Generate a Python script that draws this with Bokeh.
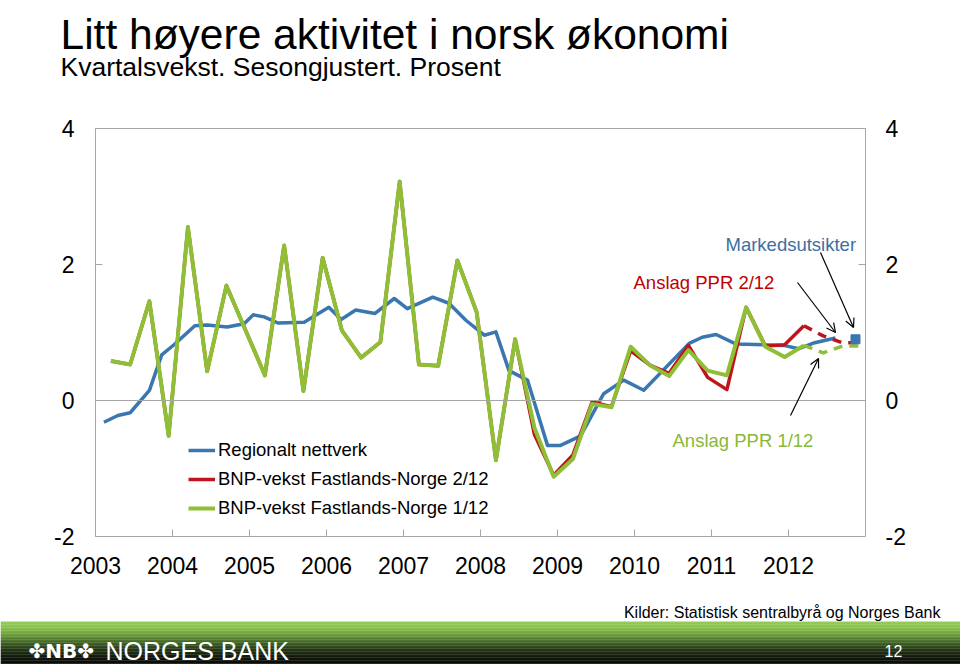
from bokeh.plotting import figure
from bokeh.layouts import column
from bokeh.models import (Range1d, LinearAxis, FixedTicker, Span, Label, Arrow, OpenHead,
                          Legend, LegendItem, Plot)
from bokeh.core.properties import value
from bokeh.embed import file_html
from bokeh.resources import INLINE

FONT = "Liberation Sans"

# ---------------- data ----------------
years = [2003, 2004, 2005, 2006, 2007, 2008, 2009, 2010, 2011, 2012]
year_labels = ["2003", "2004", "2005", "2006", "2007", "2008", "2009", "2010", "2011", "2012"]
y_ticks = [-2, 0, 2, 4]
y_labels = ["-2", "0", "2", "4"]

# quarterly BNP-vekst Fastlands-Norge, PPR 1/12 (actual data)
green_vals = [0.58, 0.53, 1.46, -0.52, 2.55, 0.43, 1.69, 1.03, 0.37, 2.28,
              0.14, 2.10, 1.03, 0.63, 0.86, 3.22, 0.53, 0.51, 2.06, 1.30,
              -0.88, 0.90, -0.40, -1.12, -0.86, -0.05, -0.10, 0.79, 0.52, 0.36,
              0.74, 0.44, 0.37, 1.37, 0.79, 0.64, 0.81]
# PPR 1/12 projection (dashed), starting from the last actual quarter
green_proj = [0.81, 0.70, 0.80, 0.80]

# quarterly BNP-vekst Fastlands-Norge, PPR 2/12
red_vals = [0.58, 0.53, 1.46, -0.52, 2.55, 0.43, 1.69, 1.03, 0.37, 2.28,
            0.14, 2.10, 1.03, 0.63, 0.86, 3.22, 0.53, 0.51, 2.06, 1.30,
            -0.88, 0.90, -0.50, -1.10, -0.80, -0.02, -0.09, 0.73, 0.52, 0.40,
            0.81, 0.34, 0.16, 1.37, 0.80, 0.82, 1.10]
red_proj = [1.10, 0.95, 0.85, 0.85]

# Regionalt nettverk (survey dates as decimal years)
blue_x = [2003.11, 2003.29, 2003.45, 2003.70, 2003.86, 2004.02, 2004.29, 2004.45,
          2004.71, 2004.93, 2005.05, 2005.19, 2005.37, 2005.71, 2006.03, 2006.19,
          2006.38, 2006.63, 2006.88, 2007.05, 2007.38, 2007.59, 2007.81, 2008.05,
          2008.20, 2008.37, 2008.61, 2008.87, 2009.04, 2009.30, 2009.60, 2009.86,
          2010.12, 2010.71, 2010.88, 2011.06, 2011.32, 2011.94, 2012.13, 2012.34,
          2012.61]
blue_vals = [-0.32, -0.22, -0.18, 0.15, 0.67, 0.82, 1.10, 1.11,
             1.08, 1.13, 1.26, 1.23, 1.14, 1.15, 1.37, 1.19,
             1.33, 1.28, 1.50, 1.35, 1.52, 1.43, 1.18, 0.96,
             1.01, 0.44, 0.30, -0.66, -0.66, -0.52, 0.10, 0.30,
             0.15, 0.84, 0.93, 0.97, 0.83, 0.81, 0.76, 0.85,
             0.92]

# Markedsutsikter
market_x = [2012.87]
market_vals = [0.90]

title_text = "Litt høyere aktivitet i norsk økonomi"
subtitle_text = "Kvartalsvekst. Sesongjustert. Prosent"
source_text = "Kilder: Statistisk sentralbyrå og Norges Bank"

# ---------------- positions ----------------
FIRST_Q = 2003.2   # position of the first quarter on the time axis
def qpos(n, start=0):
    return [FIRST_Q + 0.25 * (start + i) for i in range(n)]

green_x = qpos(len(green_vals))
red_x = qpos(len(red_vals))
proj_x = qpos(len(green_proj), start=len(green_vals) - 1)

BLUE = "#3a77b0"
RED = "#c0141c"
GREEN = "#8fbe37"
GRAY = "#a6a6a6"

W = 960
HEAD_H = 90          # page y 0 .. 90
MAIN_H = 500         # page y 90 .. 590
FOOT_H = 74          # page y 590 .. 664
FOOT_TOP = HEAD_H + MAIN_H
FL, FT, FW, FH = 95, 38, 770, 408
FRAME_LEFT_REF = FL
FRAME_TOP_REF = HEAD_H + FT

def X(px):  # reference-pixel x -> data x
    return 2003 + (px - FRAME_LEFT_REF) * 10.0 / FW

def Y(py):  # reference-pixel y -> data y
    return 4 - (py - FRAME_TOP_REF) * 6.0 / FH

HAS_FRAME_ALIGN = "frame_align" in Plot.properties()
def no_align(fig):
    if HAS_FRAME_ALIGN:
        fig.frame_align = False

# ---------------- header ----------------
head = figure(width=W, height=HEAD_H, output_backend="svg", toolbar_location=None,
              x_range=Range1d(0, W), y_range=Range1d(HEAD_H, 0),
              x_axis_location=None, y_axis_location=None, min_border=0)
head.grid.visible = False
head.outline_line_color = None
no_align(head)
head.text(x=[60], y=[34], text=[title_text], text_font=value(FONT),
          text_font_size="42.5px", text_color="black", text_baseline="alphabetic")
head.text(x=[60], y=[66], text=[subtitle_text], text_font=value(FONT),
          text_font_size="26.5px", text_color="black", text_baseline="alphabetic")

# ---------------- main chart ----------------
p = figure(width=W, height=MAIN_H, output_backend="svg", toolbar_location=None,
           x_range=Range1d(2003, 2013), y_range=Range1d(-2, 4),
           min_border_left=FL, min_border_right=W - FL - FW,
           min_border_top=FT, min_border_bottom=MAIN_H - FT - FH)
p.xgrid.visible = False
p.ygrid.visible = False
p.outline_line_color = GRAY
p.outline_line_width = 1
no_align(p)

def style_axis(ax, standoff):
    ax.axis_line_color = None
    ax.major_tick_in = 7
    ax.major_tick_out = 0
    ax.major_tick_line_color = GRAY
    ax.minor_tick_line_color = None
    ax.major_label_text_font = FONT
    ax.major_label_text_font_size = "23px"
    ax.major_label_text_color = "black"
    ax.major_label_standoff = standoff

xa = p.xaxis[0]
xa.ticker = FixedTicker(ticks=years)
xa.major_label_overrides = {y: l for y, l in zip(years, year_labels)}
style_axis(xa, 20)

ya = p.yaxis[0]
ya.ticker = FixedTicker(ticks=y_ticks)
ya.major_label_overrides = {t: l for t, l in zip(y_ticks, y_labels)}
style_axis(ya, 21)

yr = LinearAxis(ticker=FixedTicker(ticks=y_ticks))
yr.major_label_overrides = {t: l for t, l in zip(y_ticks, y_labels)}
style_axis(yr, 20)
p.add_layout(yr, "right")

p.add_layout(Span(location=0, dimension="width", line_color=GRAY, line_width=1))

r_blue = p.line(blue_x, blue_vals, line_color=BLUE, line_width=3.5, line_join="round")
r_red = p.line(red_x, red_vals, line_color=RED, line_width=3.5, line_join="round")
p.line(proj_x, red_proj, line_color=RED, line_width=3.5, line_dash="9 7")
r_green = p.line(green_x, green_vals, line_color=GREEN, line_width=4, line_join="round")
p.line(proj_x, green_proj, line_color=GREEN, line_width=3.5, line_dash="9 7")
p.scatter(market_x, market_vals, marker="square", size=9, color=BLUE)

legend = Legend(items=[
    LegendItem(label="Regionalt nettverk", renderers=[r_blue]),
    LegendItem(label="BNP-vekst Fastlands-Norge 2/12", renderers=[r_red]),
    LegendItem(label="BNP-vekst Fastlands-Norge 1/12", renderers=[r_green]),
], location=(93, 17), orientation="vertical")
legend.background_fill_alpha = 0
legend.border_line_color = None
legend.padding = 0
legend.margin = 0
legend.spacing = 7
legend.glyph_width = 27
legend.glyph_height = 20
legend.label_height = 20
legend.label_standoff = 3
legend.label_text_font = FONT
legend.label_text_font_size = "18.5px"
legend.label_text_color = "black"
p.add_layout(legend, "center")

def label(px, py, text, size, color="black", align="left"):
    p.add_layout(Label(x=X(px), y=Y(py), text=text, text_font=FONT,
                       text_font_size=size, text_color=color, text_align=align,
                       text_baseline="alphabetic"))

label(725, 244, "Markedsutsikter", "18.5px", "#3d6fa3")
label(633, 282, "Anslag PPR 2/12", "18.5px", "#c00000")
label(672, 440, "Anslag PPR 1/12", "18.5px", "#8ab83a")

for (x0, y0, x1, y1) in [(797, 282, 835, 332), (820, 252, 853, 327), (790, 415, 818, 358)]:
    p.add_layout(Arrow(x_start=X(x0), y_start=Y(y0), x_end=X(x1), y_end=Y(y1),
                       line_color="black", line_width=1.2,
                       end=OpenHead(size=9, line_color="black", line_width=1.2)))

# ---------------- footer ----------------
foot = figure(width=W, height=FOOT_H, output_backend="svg", toolbar_location=None,
              x_range=Range1d(0, W), y_range=Range1d(FOOT_TOP + FOOT_H, FOOT_TOP),
              x_axis_location=None, y_axis_location=None, min_border=0)
foot.grid.visible = False
foot.outline_line_color = None
no_align(foot)

# gradient banner, page y 621 .. 664
stops = [(621, (150, 205, 90)), (628, (134, 190, 74)), (635, (104, 152, 56)),
         (642, (66, 100, 38)), (649, (36, 54, 22)), (657, (16, 22, 10)), (665, (8, 8, 8))]
def col_at(y):
    for (ya_, ca), (yb, cb) in zip(stops[:-1], stops[1:]):
        if ya_ <= y <= yb:
            t = (y - ya_) / (yb - ya_)
            c = tuple(int(round(a + (b - a) * t)) for a, b in zip(ca, cb))
            return "#%02x%02x%02x" % c
    return "#%02x%02x%02x" % stops[-1][1]

tops = [621 + 1.5 * k for k in range(29)]
foot.quad(left=[0] * len(tops), right=[W] * len(tops), top=tops,
          bottom=[t + 1.7 for t in tops], fill_color=[col_at(t + 0.75) for t in tops],
          line_color=None)

foot.text(x=[940], y=[612], text=[source_text], text_font=value(FONT),
          text_font_size="16px", text_color="black", text_align="right",
          text_baseline="alphabetic")
foot.text(x=[28], y=[650], text=["✤NB✤"], text_font=value("DejaVu Sans"),
          text_font_size="20px", text_font_style="bold", text_color="white",
          text_baseline="alphabetic")
foot.text(x=[105], y=[650], text=["NORGES BANK"], text_font=value(FONT),
          text_font_size="25px", text_color="white", text_baseline="alphabetic")
foot.text(x=[893], y=[650], text=["12"], text_font=value(FONT),
          text_font_size="16px", text_color="white", text_align="center",
          text_baseline="alphabetic")

layout = column(head, p, foot, spacing=0)
open("out.html", "w").write(file_html(layout, INLINE))
